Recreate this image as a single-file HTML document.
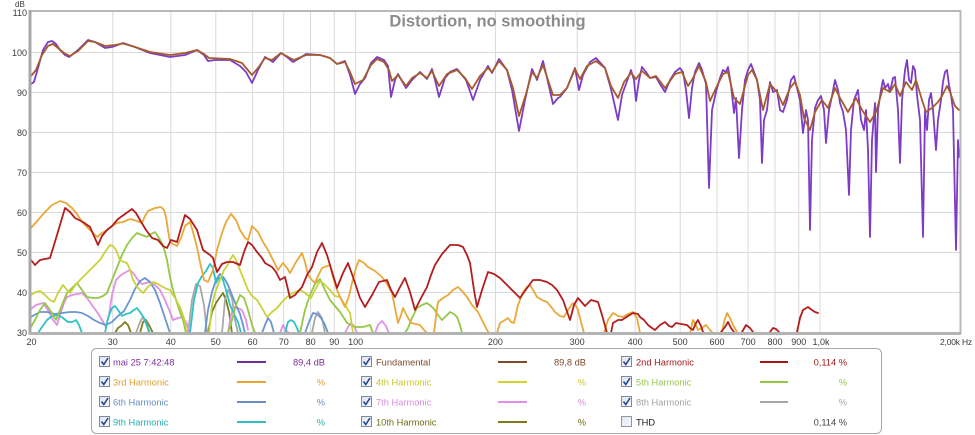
<!DOCTYPE html>
<html><head><meta charset="utf-8"><style>
html,body{margin:0;padding:0;background:#fff;width:975px;height:435px;overflow:hidden}
svg{display:block;font-family:"Liberation Sans",Arial,sans-serif}
</style></head><body>
<svg width="975" height="435" viewBox="0 0 975 435" xmlns="http://www.w3.org/2000/svg">
<rect x="0" y="0" width="975" height="435" fill="#fff"/>
<!-- grid -->
<g stroke="#d9d9d9" stroke-width="1">
<line x1="31" y1="52.5" x2="960" y2="52.5"/><line x1="31" y1="92.5" x2="960" y2="92.5"/>
<line x1="31" y1="132.5" x2="960" y2="132.5"/><line x1="31" y1="172.5" x2="960" y2="172.5"/>
<line x1="31" y1="212.5" x2="960" y2="212.5"/><line x1="31" y1="252.5" x2="960" y2="252.5"/>
<line x1="31" y1="292.5" x2="960" y2="292.5"/>
<line x1="112.8" y1="12" x2="112.8" y2="332"/><line x1="170.8" y1="12" x2="170.8" y2="332"/>
<line x1="215.8" y1="12" x2="215.8" y2="332"/><line x1="252.6" y1="12" x2="252.6" y2="332"/>
<line x1="283.7" y1="12" x2="283.7" y2="332"/><line x1="310.6" y1="12" x2="310.6" y2="332"/>
<line x1="334.3" y1="12" x2="334.3" y2="332"/><line x1="355.6" y1="12" x2="355.6" y2="332"/>
<line x1="495.4" y1="12" x2="495.4" y2="332"/><line x1="577.2" y1="12" x2="577.2" y2="332"/>
<line x1="635.2" y1="12" x2="635.2" y2="332"/><line x1="680.2" y1="12" x2="680.2" y2="332"/>
<line x1="717" y1="12" x2="717" y2="332"/><line x1="748.1" y1="12" x2="748.1" y2="332"/>
<line x1="775" y1="12" x2="775" y2="332"/><line x1="798.8" y1="12" x2="798.8" y2="332"/>
<line x1="820" y1="12" x2="820" y2="332"/>
</g>
<!-- title -->
<text x="487.5" y="26.5" text-anchor="middle" font-size="16.5" font-weight="bold" fill="#8c8c8c">Distortion, no smoothing</text>

<!-- series -->
<g fill="none" stroke-width="1.8" stroke-linejoin="round" stroke-linecap="round">
<!-- 10th olive -->
<g stroke="#807d1e">
<polyline points="115,333 118,328 121,326 125,322 128,325 131,333"/>
<polyline points="140,333 143,322 146,320 150,327 153,333"/>
<polyline points="208,333 212,312 216,303 220,297 223,293 226,300 229,312 232,333"/>
</g>
<!-- 8th gray -->
<g stroke="#a8a8a8">
<polyline points="136,333 140,322 143,317 146,322 149,333"/>
<polyline points="188,333 192,300 196,284 200,286 204,305 207,333"/>
<polyline points="222,333 225,300 228,290 232,298 235,320 238,333"/>
<polyline points="312,333 315,318 318,312 322,318 325,333"/>
</g>
<!-- 7th pink -->
<g stroke="#e190e4">
<polyline points="31,309 36,305 43,303 48,310 53,320 57,325 60,315 64,303 67,297 72,295 77,294 82,293 87,298 92,305 97,312 102,320 106,327 109,315 112,295 116,280 121,275 126,272 130,270 134,274 138,280 142,284 146,283 150,282 155,285 160,290 165,300 170,312 173,320 178,318 182,317 186,322 190,333"/>
<polyline points="228,333 231,315 234,307 238,308 242,310 246,320 248,330"/>
<polyline points="280,333 283,325 286,330 289,333"/>
<polyline points="345,333 348,327 351,323 354,326 357,333"/>
<polyline points="375,333 378,325 382,321 386,326 389,333"/>
</g>
<!-- 6th blue -->
<g stroke="#6b95d2">
<polyline points="31,317 36,314 40,312 47,312 55,314 62,313 70,312 76,312 82,313 88,316 94,320 100,323 106,325 112,322 118,316 124,311 130,300 135,289 140,281 145,278 150,282 155,290 160,303 164,315 167,324 170,333"/>
<polyline points="205,333 208,310 212,292 216,280 220,274 224,278 228,285 232,295 236,305 240,314 243,325 245,333"/>
<polyline points="262,333 265,325 268,318 271,322 274,333"/>
<polyline points="305,333 309,322 313,313 317,314 321,318 325,325 328,333"/>
</g>
<!-- 9th cyan -->
<g stroke="#2ec2c4">
<polyline points="38,333 42,327 47,320 52,316 58,315 63,318 68,322 72,322 76,320 79,325 82,333"/>
<polyline points="105,333 108,318 112,308 115,306 118,310 122,316 126,314 130,313 134,310 137,308 140,312 144,318 147,326 150,333"/>
<polyline points="190,333 194,300 198,283 202,276 206,271 210,264 213,268 216,283 219,278 222,277 226,290 230,305 234,314 238,322 241,333"/>
<polyline points="285,333 288,322 291,320 294,322 297,328 299,333"/>
</g>
<!-- 5th green -->
<g stroke="#94c848">
<polyline points="31,327 35,320 40,310 45,303 50,310 56,320 60,310 64,300 67,293 72,288 77,283 82,290 87,297 93,298 98,298 103,296 107,293 112,280 118,265 122,255 127,245 132,238 137,233 142,235 147,237 151,234 155,232 159,238 163,245 167,260 170,277 173,290 177,303 180,312 183,320 186,333"/>
<polyline points="228,333 232,320 236,305 240,295 244,298 248,310 252,325 255,333"/>
<polyline points="300,333 305,310 310,295 315,284 320,279 325,290 330,300 335,306 340,312 344,318 347,323 355,327 363,327 370,325 373,333"/>
<polyline points="405,333 408,328 412,318 417,308 422,305 427,303 431,306 434,309 438,315 442,320 446,316 450,312 454,314 457,317 460,325 462,333"/>
</g>
<!-- 4th yellow-green -->
<g stroke="#c9d23a">
<polyline points="31,295 36,292 40,291 45,295 50,300 54,302 58,293 63,285 67,290 70,293 74,287 77,283 82,278 86,274 90,270 95,265 100,260 105,252 110,245 113,246 116,250 120,260 124,262 127,263 130,270 133,280 138,288 143,293 148,287 153,282 158,284 163,287 167,289 170,290 175,298 180,307 184,318 187,333"/>
<polyline points="209,333 212,305 215,293 220,280 224,270 227,266 230,260 233,255 236,260 240,270 244,280 248,290 252,296 257,300 262,308 267,317 272,312 277,308 282,302 287,297 293,293 300,290 305,293 311,298 315,290 320,281 324,284 330,290 335,296 340,297 345,305 350,313 353,333"/>
</g>
<!-- 3rd orange -->
<g stroke="#e9a83a">
<polyline points="31,228 38,220 45,212 52,205 60,201 66,203 72,208 77,214 82,222 88,228 93,233 97,237 102,233 107,230 112,226 117,223 123,222 130,219 137,221 142,223 145,216 148,211 155,208 161,207 164,210 166,217 168,230 170,242 173,244 177,246 181,238 185,226 190,222 193,232 197,247 200,262 204,280 208,282 213,270 217,250 222,233 226,222 231,214 236,220 240,230 245,238 248,240 252,226 258,232 263,242 268,250 272,258 278,270 283,263 287,268 290,273 296,262 302,253 305,262 308,275 312,280 315,283 318,276 322,268 330,265 333,277 337,290 341,299 345,307 349,296 352,283 356,268 359,260 364,263 368,267 375,271 382,277 387,284 392,293 395,308 398,323 401,315 403,308 407,316 411,323 416,324 420,325 424,330 427,333"/>
<polyline points="434,333 436,316 438,302 443,298 448,295 453,290 458,287 462,291 467,297 472,305 478,312 482,320 487,330 489,333"/>
<polyline points="497,333 500,323 505,320 508,318 511,322 514,323 518,305 523,292 527,287 530,285 533,290 537,297 542,300 547,302 552,308 555,312 560,316 564,317 568,310 573,303 576,306 578,310 581,322 584,333"/>
<polyline points="604,333 608,320 613,313 618,316 623,317 628,314 633,312 637,318 640,333"/>
<polyline points="690,333 693,320 696,325 698,330 702,328 706,325 710,330 713,333"/>
<polyline points="722,333 724,322 727,313 730,318 733,325 737,332"/>
</g>
<!-- 2nd red -->
<g stroke="#b31d1d">
<polyline points="31,260 35,265 40,260 50,258 57,235 65,208 70,212 75,218 83,222 90,227 94,236 98,245 102,236 107,230 112,226 118,219 125,214 132,209 136,213 140,220 146,230 152,238 158,240 163,246 167,248 171,240 177,242 181,228 185,215 190,219 197,230 203,250 210,255 213,258 217,272 222,264 227,262 233,262 240,265 244,252 248,242 252,245 257,252 262,258 265,263 272,267 276,272 280,280 285,277 290,298 295,295 302,287 307,275 312,267 317,252 322,243 327,255 333,275 337,288 343,273 348,263 353,277 360,298 365,307 372,295 379,282 387,280 391,290 395,297 400,287 405,278 410,292 415,310 421,298 427,287 431,275 435,265 442,254 450,245 458,245 463,247 467,255 470,263 474,290 477,307 482,290 488,272 494,274 500,278 506,284 512,290 520,298 527,288 533,280 540,280 547,282 552,285 557,290 563,300 570,320 574,305 578,298 585,306 591,300 598,302 602,315 607,333"/>
<polyline points="611,333 613,323 618,320 622,320 628,316 633,313 638,314 640,317 644,320 648,325 652,328 655,330 660,325 665,322 669,326 672,327 676,323 681,324 687,325 690,328 693,330 696,323 698,320 701,326 703,332"/>
<polyline points="721,332 725,327 728,322 731,328 734,332"/>
<polyline points="742,332 746,325 750,328 753,332"/>
<polyline points="770,332 773,328 776,329 779,332"/>
<polyline points="797,332 800,318 803,310 808,307 812,310 815,312 818,313"/>
</g>
<!-- measurement purple -->
<polyline stroke="#7d3cc4" points="31,84 34,82 38,68 43,50 48,42 52,41 56,44 60,50 65,55 69,57 73,54 78,50 88,40 95,42 105,48 112,47 123,43 135,47 150,53 170,57 185,55 197,50 204,55 208,61 215,60 230,60 240,66 246,72 252,83 258,70 265,57 273,62 281,53 287,57 293,62 300,58 306,54 320,55 330,58 337,64 345,61 350,75 355,94 360,84 365,78 371,63 377,57 384,60 388,66 391,97 395,80 398,74 406,88 412,80 420,72 427,79 432,69 435,80 439,97 445,78 450,72 457,69 466,80 473,100 480,80 488,66 492,73 499,59 504,66 507,70 512,90 519,131 525,100 532,69 537,80 543,61 548,82 553,104 558,98 560,97 567,88 575,68 579,90 583,75 590,62 596,58 605,68 611,89 618,120 622,95 631,70 634,80 636,101 639,80 642,67 646,72 650,78 656,77 660,84 665,92 670,80 675,72 680,68 683,72 686,90 689,118 692,88 695,72 699,63 702,70 706,84 709,188 712,110 716,92 720,78 723,70 726,72 728,67 731,85 734,113 736,98 739,158 742,110 745,80 748,70 751,64 754,72 757,80 760,100 762,163 764,120 767,110 770,82 773,92 777,90 780,110 783,112 787,100 791,80 794,76 797,88 800,100 803,133 806,110 808,120 810,230 812,140 815,108 818,100 821,96 824,110 826,143 829,110 832,96 835,80 838,90 840,103 843,112 846,130 849,195 851,130 854,100 858,90 861,120 864,130 866,110 868,150 870,237 872,140 875,103 876,172 878,110 881,90 883,80 885,88 888,84 890,92 893,78 895,77 898,110 900,163 902,100 905,70 907,60 909,80 911,83 913,66 915,70 917,95 920,120 923,237 925,110 927,130 929,100 931,93 933,110 936,150 938,120 941,100 943,82 945,72 947,70 949,85 951,95 953,110 956,250 958,140 959,157"/>
<!-- fundamental brown -->
<polyline stroke="#a65b2c" points="31,76 36,70 42,55 48,46 53,44 58,48 64,53 70,56 78,51 88,41 95,42 105,46 115,45 123,43.5 135,47 150,52 170,55 185,53 197,50 204,54 209,58 230,59 242,63 252,75 258,68 265,58 272,60 281,53 290,58 294,60 306,55 320,55 330,58 337,64 345,62 350,72 355,84 363,80 371,65 377,59 384,62 389,70 392,81 398,75 406,86 412,78 420,73 427,78 432,71 439,86 447,74 457,70 465,78 472,89 480,76 488,68 492,72 499,61 507,70 513,88 519,116 526,94 532,72 537,78 543,65 548,80 553,95 560,95 567,88 575,69 580,79 587,66 596,61 605,68 611,86 618,98 624,82 631,73 636,79 642,71 650,78 656,76 665,88 675,74 682,72 688,86 692,80 699,66 706,82 710,101 716,88 723,74 728,72 734,98 740,104 748,75 752,70 757,80 763,110 770,84 777,92 783,105 790,88 795,82 800,95 804,118 810,130 815,112 822,100 828,108 835,88 840,98 848,112 856,98 862,110 870,122 876,112 883,88 890,92 895,84 900,96 906,82 912,90 916,80 922,100 926,112 932,108 938,102 942,96 947,86 950,92 955,106 959,110"/>
</g>

<!-- frame -->
<line x1="30" y1="11" x2="961" y2="11" stroke="#b8b8b8" stroke-width="2"/>
<line x1="960.5" y1="10" x2="960.5" y2="334" stroke="#b8b8b8" stroke-width="2"/>
<line x1="30" y1="10" x2="30" y2="335" stroke="#a8a8a8" stroke-width="3"/>
<line x1="29" y1="333.5" x2="961" y2="333.5" stroke="#b3b3b3" stroke-width="3"/>

<!-- y labels -->
<g font-size="9" fill="#3a3a3a" text-anchor="end">
<text x="15" y="7" text-anchor="start" font-size="8">dB</text>
<text x="27" y="16">110</text><text x="27" y="56">100</text><text x="27" y="96">90</text>
<text x="27" y="136">80</text><text x="27" y="176">70</text><text x="27" y="216">60</text>
<text x="27" y="256">50</text><text x="27" y="296">40</text><text x="27" y="336">30</text>
</g>
<!-- x labels -->
<g font-size="9" fill="#3a3a3a" text-anchor="middle">
<text x="31.5" y="345">20</text><text x="112.8" y="345">30</text><text x="170.8" y="345">40</text>
<text x="215.8" y="345">50</text><text x="252.6" y="345">60</text><text x="283.7" y="345">70</text>
<text x="310.6" y="345">80</text><text x="334.3" y="345">90</text><text x="355.6" y="345">100</text>
<text x="495.4" y="345">200</text><text x="577.2" y="345">300</text><text x="635.2" y="345">400</text>
<text x="680.2" y="345">500</text><text x="717" y="345">600</text><text x="748.1" y="345">700</text>
<text x="775" y="345">800</text><text x="798.8" y="345">900</text><text x="821" y="345">1,0k</text>
<text x="940" y="345" text-anchor="start" font-size="8.5" letter-spacing="-0.2">2,00k Hz</text>
</g>

<!-- legend -->
<rect x="91.5" y="348.5" width="790" height="85" rx="5" ry="5" fill="#fff" stroke="#a9a9a9" stroke-width="1"/>
<defs>
<linearGradient id="cb" x1="0" y1="0" x2="1" y2="1"><stop offset="0" stop-color="#dfe5ef"/><stop offset="1" stop-color="#f7f9fc"/></linearGradient>
</defs>
<g font-size="9.3">
<!-- row 1 -->
<g transform="translate(0,362)">
<rect x="99.5" y="-5.5" width="10" height="10" fill="url(#cb)" stroke="#7d8aa3"/>
<polyline points="101.5,-0.5 103.8,2.5 108,-4" fill="none" stroke="#2a4590" stroke-width="1.6"/>
<text x="113" y="3.3" fill="#7a2f9c">mai 25 7:42:48</text>
<line x1="237" y1="0" x2="266" y2="0" stroke="#6e2f96" stroke-width="2"/>
<text x="325" y="3.3" text-anchor="end" fill="#7a2f9c">89,4 dB</text>
<rect x="361.5" y="-5.5" width="10" height="10" fill="url(#cb)" stroke="#7d8aa3"/>
<polyline points="363.5,-0.5 365.8,2.5 370,-4" fill="none" stroke="#2a4590" stroke-width="1.6"/>
<text x="376" y="3.3" fill="#7b4a2a">Fundamental</text>
<line x1="498" y1="0" x2="527" y2="0" stroke="#7c4a2c" stroke-width="2"/>
<text x="586" y="3.3" text-anchor="end" fill="#7b4a2a">89,8 dB</text>
<rect x="621.5" y="-5.5" width="10" height="10" fill="url(#cb)" stroke="#7d8aa3"/>
<polyline points="623.5,-0.5 625.8,2.5 630,-4" fill="none" stroke="#2a4590" stroke-width="1.6"/>
<text x="636" y="3.3" fill="#a31818">2nd Harmonic</text>
<line x1="760" y1="0" x2="788" y2="0" stroke="#a61818" stroke-width="2"/>
<text x="847" y="3.3" text-anchor="end" fill="#a31818">0,114 %</text>
</g>
<!-- row 2 -->
<g transform="translate(0,382)">
<rect x="99.5" y="-5.5" width="10" height="10" fill="url(#cb)" stroke="#7d8aa3"/>
<polyline points="101.5,-0.5 103.8,2.5 108,-4" fill="none" stroke="#2a4590" stroke-width="1.6"/>
<text x="113" y="3.3" fill="#e0a030">3rd Harmonic</text>
<line x1="237" y1="0" x2="266" y2="0" stroke="#e8a52e" stroke-width="2"/>
<text x="325" y="3.3" text-anchor="end" fill="#e0a030">%</text>
<rect x="361.5" y="-5.5" width="10" height="10" fill="url(#cb)" stroke="#7d8aa3"/>
<polyline points="363.5,-0.5 365.8,2.5 370,-4" fill="none" stroke="#2a4590" stroke-width="1.6"/>
<text x="376" y="3.3" fill="#c9c927">4th Harmonic</text>
<line x1="498" y1="0" x2="527" y2="0" stroke="#d2d228" stroke-width="2"/>
<text x="586" y="3.3" text-anchor="end" fill="#c9c927">%</text>
<rect x="621.5" y="-5.5" width="10" height="10" fill="url(#cb)" stroke="#7d8aa3"/>
<polyline points="623.5,-0.5 625.8,2.5 630,-4" fill="none" stroke="#2a4590" stroke-width="1.6"/>
<text x="636" y="3.3" fill="#9ac650">5th Harmonic</text>
<line x1="760" y1="0" x2="788" y2="0" stroke="#95c844" stroke-width="2"/>
<text x="847" y="3.3" text-anchor="end" fill="#9ac650">%</text>
</g>
<!-- row 3 -->
<g transform="translate(0,402)">
<rect x="99.5" y="-5.5" width="10" height="10" fill="url(#cb)" stroke="#7d8aa3"/>
<polyline points="101.5,-0.5 103.8,2.5 108,-4" fill="none" stroke="#2a4590" stroke-width="1.6"/>
<text x="113" y="3.3" fill="#6590c6">6th Harmonic</text>
<line x1="237" y1="0" x2="266" y2="0" stroke="#6a8fbf" stroke-width="2"/>
<text x="325" y="3.3" text-anchor="end" fill="#6590c6">%</text>
<rect x="361.5" y="-5.5" width="10" height="10" fill="url(#cb)" stroke="#7d8aa3"/>
<polyline points="363.5,-0.5 365.8,2.5 370,-4" fill="none" stroke="#2a4590" stroke-width="1.6"/>
<text x="376" y="3.3" fill="#d88ee0">7th Harmonic</text>
<line x1="498" y1="0" x2="527" y2="0" stroke="#e08ee6" stroke-width="2"/>
<text x="586" y="3.3" text-anchor="end" fill="#d88ee0">%</text>
<rect x="621.5" y="-5.5" width="10" height="10" fill="url(#cb)" stroke="#7d8aa3"/>
<polyline points="623.5,-0.5 625.8,2.5 630,-4" fill="none" stroke="#2a4590" stroke-width="1.6"/>
<text x="636" y="3.3" fill="#a2a2a2">8th Harmonic</text>
<line x1="760" y1="0" x2="788" y2="0" stroke="#a6a6a6" stroke-width="2"/>
<text x="847" y="3.3" text-anchor="end" fill="#a2a2a2">%</text>
</g>
<!-- row 4 -->
<g transform="translate(0,422)">
<rect x="99.5" y="-5.5" width="10" height="10" fill="url(#cb)" stroke="#7d8aa3"/>
<polyline points="101.5,-0.5 103.8,2.5 108,-4" fill="none" stroke="#2a4590" stroke-width="1.6"/>
<text x="113" y="3.3" fill="#22aeb0">9th Harmonic</text>
<line x1="237" y1="0" x2="266" y2="0" stroke="#2cc0c0" stroke-width="2"/>
<text x="325" y="3.3" text-anchor="end" fill="#22aeb0">%</text>
<rect x="361.5" y="-5.5" width="10" height="10" fill="url(#cb)" stroke="#7d8aa3"/>
<polyline points="363.5,-0.5 365.8,2.5 370,-4" fill="none" stroke="#2a4590" stroke-width="1.6"/>
<text x="376" y="3.3" fill="#6f6c14">10th Harmonic</text>
<line x1="498" y1="0" x2="527" y2="0" stroke="#807a1a" stroke-width="2"/>
<text x="586" y="3.3" text-anchor="end" fill="#6f6c14">%</text>
<rect x="621.5" y="-5.5" width="10" height="10" fill="url(#cb)" stroke="#8a96aa"/>
<text x="636" y="3.3" fill="#222">THD</text>
<text x="847" y="3.3" text-anchor="end" fill="#444">0,114 %</text>
</g>
</g>
</svg>
</body></html>
